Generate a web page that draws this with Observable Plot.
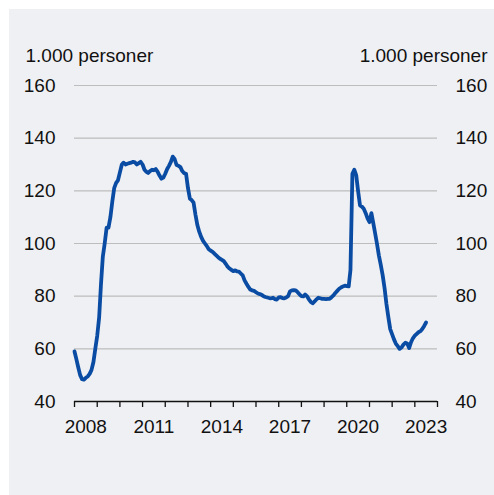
<!DOCTYPE html>
<html>
<head>
<meta charset="utf-8">
<script src="https://cdn.jsdelivr.net/npm/d3@7"></script>
<script src="https://cdn.jsdelivr.net/npm/@observablehq/plot@0.6"></script>
<style>
  html, body { margin: 0; padding: 0; background: #ffffff; }
  #bg { position: absolute; left: 9px; top: 9px; width: 485px; height: 486px; background: #eff0f3; }
  #chart { position: absolute; left: 0; top: 0; }
</style>
</head>
<body>
<div id="bg"></div>
<div id="chart"></div>
<script>
// Monthly series, starting January 2008 (1.000 personer)
const startYear = 2008;
const values = [
  59, 56, 53, 50, 48.5, 48.3, 49, 49.5, 50.5, 52, 55, 60,
  65, 72, 84, 95, 100, 106, 106, 110, 116, 121, 123, 124,
  127, 130, 130.7, 130, 130.3, 130.5, 130.7, 131, 130.8, 130, 130.5, 131,
  130, 128, 127.3, 126.8, 127.5, 128, 127.8, 128.3, 127.2, 125.8, 124.6, 125,
  126.5, 128.3, 129.5, 131, 133, 132, 129.8, 129.5, 129, 127.5, 126.7, 126.5,
  121, 117, 116.5, 115.5, 111, 107, 104.5, 102.5, 101, 100, 99, 97.8,
  97.3, 96.8, 96.2, 95.5, 94.8, 94.2, 93.8, 93.3, 92.3, 91.2, 90.5, 90,
  89.5, 89.8, 89.4, 89.3, 88.6, 87.9, 86, 84.7, 83.5, 82.5, 82.2, 82,
  81.5, 81, 80.8, 80.5, 80, 79.7, 79.5, 79.3, 79.2, 79.4, 78.9, 78.7,
  79.5, 79.6, 79.3, 79.2, 79.5, 80, 81.8, 82.2, 82.3, 82.2, 81.5, 80.7,
  80, 79.9, 80.6, 80, 78.8, 77.8, 77.3, 78, 78.8, 79.4, 79.2, 79,
  79, 78.9, 79, 79, 79.6, 80.3, 81.2, 82, 82.8, 83.3, 83.7, 84,
  83.8, 83.7, 90, 126.5, 128, 126, 120, 114.5, 114, 113.2, 111.5, 109.5,
  108.1, 111.5, 108, 104, 100, 95.5, 92, 88, 83, 77, 72, 67.5,
  65.5, 63.5, 62, 61, 60, 60.5, 61.6, 62.3, 62, 60.3, 62.5, 64,
  65, 65.7, 66.3, 66.7, 67.5, 68.7, 70
];
const yTicks = [40, 60, 80, 100, 120, 140, 160];
const gridTicks = [60, 80, 100, 120, 140, 160];
const labelYears = [2008, 2011, 2014, 2017, 2020, 2023];
const tickYears = d3.range(2008, 2025);
const unitLabel = "1.000 personer";

const data = values.map((v, i) => ({date: new Date(Date.UTC(startYear, i, 1)), value: v}));
const tickDates = tickYears.map(y => new Date(Date.UTC(y, 0, 1)));
const labelDates = labelYears.map(y => new Date(Date.UTC(y, 6, 1)));

const font = "'Liberation Sans', Arial, sans-serif";
const fs = 19;

const chart = Plot.plot({
  width: 494,
  height: 495,
  marginLeft: 74,
  marginRight: 57,
  marginTop: 85,
  marginBottom: 94,
  style: {background: "transparent", fontFamily: font, fontSize: fs + "px", color: "#111111"},
  x: {type: "utc", domain: [new Date(Date.UTC(2008, 0, 1)), new Date(Date.UTC(2024, 0, 1))]},
  y: {domain: [40, 160]},
  marks: [
    Plot.ruleY(gridTicks, {stroke: "#bdbdbd", strokeWidth: 1.2}),
    Plot.ruleY([40], {stroke: "#111111", strokeWidth: 1.3}),
    Plot.axisX({ticks: tickDates, tickSize: 6, tickFormat: () => "", stroke: "#111111", strokeWidth: 1.3, label: null}),
    Plot.axisX({ticks: labelDates, tickSize: 0, tickPadding: 18, tickFormat: d => String(d.getUTCFullYear()), label: null, fontSize: fs}),
    Plot.axisY({anchor: "left", ticks: yTicks, tickSize: 0, tickPadding: 19, tickFormat: d => String(d), label: null, fontSize: fs}),
    Plot.axisY({anchor: "right", ticks: yTicks, tickSize: 0, tickPadding: 18, tickFormat: d => String(d), label: null, fontSize: fs, textAnchor: "start"}),
    Plot.lineY(data, {x: "date", y: "value", stroke: "#0a4ca3", strokeWidth: 3.8, curve: "linear", strokeLinejoin: "round"}),
    Plot.text([unitLabel], {frameAnchor: "top-left", dx: -49, dy: -37, textAnchor: "start", fontSize: fs, fill: "#111111"}),
    Plot.text([unitLabel], {frameAnchor: "top-right", dx: 50, dy: -37, textAnchor: "end", fontSize: fs, fill: "#111111"})
  ]
});
document.getElementById("chart").appendChild(chart);
</script>
</body>
</html>
